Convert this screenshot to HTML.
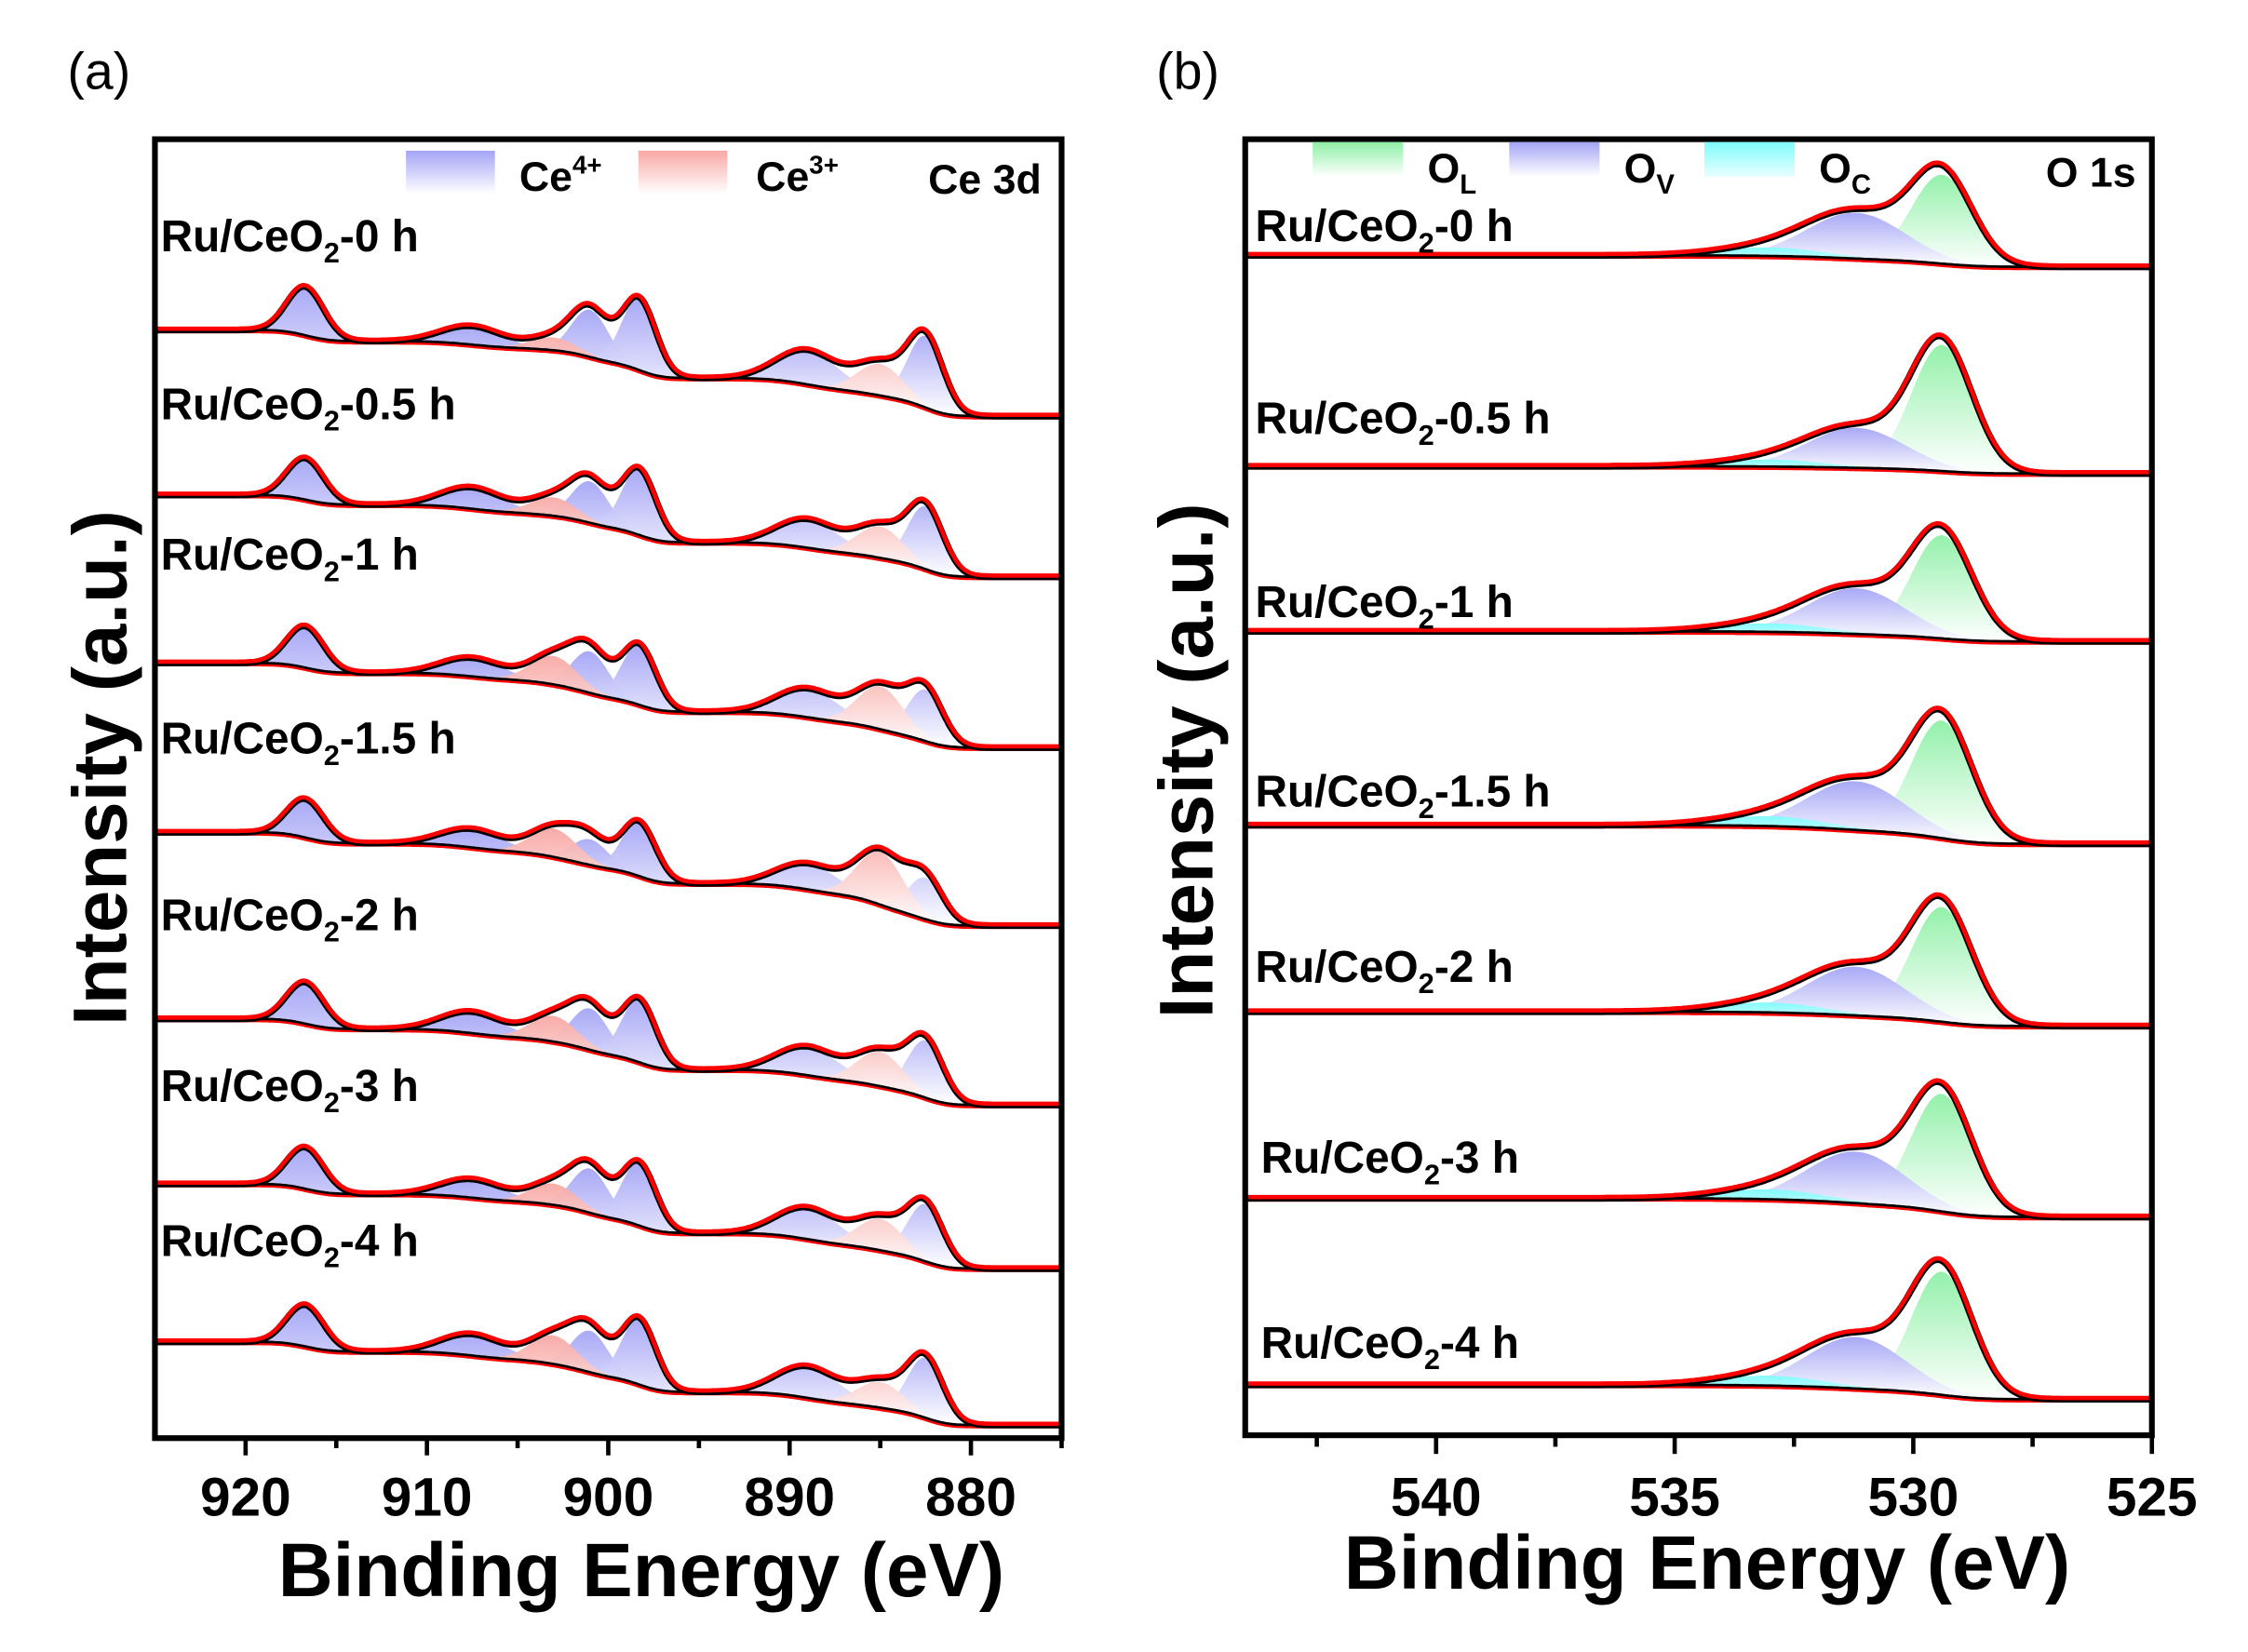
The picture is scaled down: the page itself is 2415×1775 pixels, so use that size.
<!DOCTYPE html>
<html><head><meta charset="utf-8"><style>
html,body{margin:0;padding:0;background:#fff}
svg{display:block}
text{font-family:"Liberation Sans",Arial,sans-serif}
</style></head><body>
<svg id="fig" width="2415" height="1775" viewBox="0 0 1567 1151" preserveAspectRatio="none" xmlns="http://www.w3.org/2000/svg">
<defs>
<linearGradient id="gB" x1="0" y1="0" x2="0" y2="1"><stop offset="0" stop-color="#a4a4f6"/><stop offset="1" stop-color="#ffffff"/></linearGradient>
<linearGradient id="gR" x1="0" y1="0" x2="0" y2="1"><stop offset="0" stop-color="#f8a8a4"/><stop offset="1" stop-color="#ffffff"/></linearGradient>
<linearGradient id="gG" x1="0" y1="0" x2="0" y2="1"><stop offset="0" stop-color="#8ef0a6"/><stop offset="1" stop-color="#ffffff"/></linearGradient>
<linearGradient id="gC" x1="0" y1="0" x2="0" y2="1"><stop offset="0" stop-color="#7ffcfc"/><stop offset="1" stop-color="#e8ffff"/></linearGradient>
</defs>
<g id="plotA"></g>
<g id="plotB"></g>
<text x="47" y="62" font-size="36">(a)</text>
<text x="806" y="62" font-size="36">(b)</text>
<text transform="translate(88,535) rotate(-90)" text-anchor="middle" font-size="53" font-weight="bold">Intensity (a.u.)</text>
<text transform="translate(845,530) rotate(-90)" text-anchor="middle" font-size="53" font-weight="bold">Intensity (a.u.)</text>
<text x="447" y="1112" text-anchor="middle" font-size="53" font-weight="bold">Binding Energy (eV)</text>
<text x="1190" y="1107" text-anchor="middle" font-size="53" font-weight="bold">Binding Energy (eV)</text>
<rect x="283" y="105" width="62" height="30" fill="url(#gB)"/>
<text x="362" y="133" font-size="29" font-weight="bold">Ce<tspan font-size="18" dy="-12">4+</tspan></text>
<rect x="445" y="105" width="62" height="30" fill="url(#gR)"/>
<text x="527" y="133" font-size="29" font-weight="bold">Ce<tspan font-size="18" dy="-12">3+</tspan></text>
<text x="647" y="135" font-size="29" font-weight="bold">Ce 3d</text>
<rect x="915" y="99" width="63" height="24" fill="url(#gG)"/>
<text x="995" y="127" font-size="29" font-weight="bold">O<tspan font-size="19" dy="8">L</tspan></text>
<rect x="1052" y="99" width="63" height="24" fill="url(#gB)"/>
<text x="1132" y="127" font-size="29" font-weight="bold">O<tspan font-size="19" dy="8">V</tspan></text>
<rect x="1188" y="99" width="63" height="24" fill="url(#gC)"/>
<text x="1268" y="127" font-size="29" font-weight="bold">O<tspan font-size="19" dy="8">C</tspan></text>
<text x="1426" y="130" font-size="29" font-weight="bold">O 1s</text>
</svg>
<script>
// ---- Ce 3d data ----
const ceCenters = [916.7, 907.5, 901.0, 898.3, 889.0, 882.5, 903.0, 885.0];
const ceFwhm    = [2.4, 4.0, 2.4, 2.2, 4.0, 2.3, 3.0, 3.0];
const ceType    = ['Ce4','Ce4','Ce4','Ce4','Ce4','Ce4','Ce3','Ce3'];
const ceSamples = ['0 h','0.5 h','1 h','1.5 h','2 h','3 h','4 h'];
const ceAmp = [
 [34,13,33,50,24,50,9,22],
 [29,15,29,46,20,44,13,22],
 [29,13,29,42,20,36,20,30],
 [27,13,18,38,18,29,20,37],
 [29,15,29,44,20,40,18,24],
 [29,13,31,44,22,40,15,22],
 [29,15,29,46,22,42,20,18]
];
const ceBaseLeft  = [230,345,462,580,710,825,935];
const ceBaseRight = [290,402,521,645,770,884,993];
const ceLabelY = [175,292,397,525,648,767,875];
const ceTicks = [920,910,900,890,880];
// ---- O 1s data ----
const oCenters = [529.4, 531.2, 533.0];
const oFwhm    = [1.5, 2.4, 2.6];
const oType    = ['OL','OV','OC'];
const oAmp = [
 [62,32,6],[88,28,5],[72,32,6],[82,34,7],[80,34,7],[82,36,7],[86,36,7]
];
const oBaseLeft  = [178,325,440,575,705,835,965];
const oBaseRight = [186,330,447,588,715,848,975];
const oLabelY = [168,302,430,562,684,817,946];
const oLabelX = [875,875,875,875,875,879,879];
const oTicks = [540,535,530,525];

const NS='http://www.w3.org/2000/svg';
function mk(tag,attrs,parent){const e=document.createElementNS(NS,tag);for(const k in attrs)e.setAttribute(k,attrs[k]);parent.appendChild(e);return e;}
const fills={Ce4:'url(#gB)',Ce3:'url(#gR)',OL:'url(#gG)',OV:'url(#gB)',OC:'url(#gC)'};

function drawPanel(g,opt){
  const {x0,x1,y0,y1,eMax,eMin,centers,fwhm,types,amps,bl,br,step}=opt;
  const xs=E=>x0+(eMax-E)*(x1-x0)/(eMax-eMin);
  const gs=(E,c,f)=>{const s=f/2.355;return Math.exp(-0.5*((E-c)/s)**2);};
  amps.forEach((amp,r)=>{
    const Es=[];for(let E=eMax;E>=eMin-1e-6;E-=step)Es.push(E);
    const tot=Es.map(E=>amp.reduce((a,A,i)=>a+A*gs(E,centers[i],fwhm[i]),0));
    const cum=[];let acc=0;for(let i=Es.length-1;i>=0;i--){acc+=tot[i];cum[i]=acc;}
    const bg=Es.map((E,i)=>br[r]-(br[r]-bl[r])*cum[i]/acc);
    const row=mk('g',{},g);
    
    
    amp.forEach((A,i)=>{
      let d='';Es.forEach((E,k)=>{d+=(k?'L':'M')+xs(E).toFixed(1)+','+(bg[k]-A*gs(E,centers[i],fwhm[i])).toFixed(1);});
      for(let k=Es.length-1;k>=0;k--)d+='L'+xs(Es[k]).toFixed(1)+','+bg[k].toFixed(1);
      const p=mk('path',{d:d+'Z',fill:fills[types[i]],stroke:'none',opacity:0.95},row);
      
      
    });
    let db='',de='',dr='';
    Es.forEach((E,k)=>{const X=xs(E).toFixed(1);db+=(k?'L':'M')+X+','+bg[k].toFixed(1);
      de+=(k?'L':'M')+X+','+(bg[k]-tot[k]).toFixed(1);
      dr+=(k?'L':'M')+X+','+(bg[k]-tot[k]-1).toFixed(1);});
    const b1=mk('path',{d:db,fill:'none',stroke:'#000',"stroke-width":2},row);
    
    
    const b2=mk('path',{d:db,fill:'none',stroke:'#f00',"stroke-width":1.5,transform:'translate(0,1.5)'},row);
    
    
    const raw=mk('path',{d:de,fill:'none',stroke:'#000',"stroke-width":4.5},row);
    
    
    const env=mk('path',{d:dr,fill:'none',stroke:'#f00',"stroke-width":3},row);
    
    
  });
  const fr=mk('rect',{x:x0,y:y0,width:x1-x0,height:y1-y0,fill:'none',stroke:'#000',"stroke-width":4},g);
  
  
  return xs;
}

const gA=document.getElementById('plotA');
const xa=drawPanel(gA,{x0:108,x1:740,y0:97,y1:1002,eMax:925,eMin:875,centers:ceCenters,fwhm:ceFwhm,types:ceType,amps:ceAmp,bl:ceBaseLeft,br:ceBaseRight,step:0.1});
ceTicks.forEach(t=>{
  const l=mk('line',{x1:xa(t),x2:xa(t),y1:1002,y2:1014,stroke:'#000',"stroke-width":3},gA);
  
  
  const m=mk('line',{x1:xa(t-5),x2:xa(t-5),y1:1002,y2:1009,stroke:'#000',"stroke-width":3},gA);
  
  
  const tx=mk('text',{x:xa(t),y:1056,"text-anchor":"middle","font-size":38,"font-weight":"bold"},gA);
  tx.textContent=t;
  
  
});
ceSamples.forEach((s,i)=>{
  const t=mk('text',{x:112,y:ceLabelY[i],"font-size":31,"font-weight":"bold"},gA);
  t.innerHTML='Ru/CeO<tspan font-size="20" dy="8">2</tspan><tspan dy="-8">-'+s+'</tspan>';
  
  
});

const gB=document.getElementById('plotB');
const xb=drawPanel(gB,{x0:868,x1:1500,y0:97,y1:1000,eMax:544,eMin:525,centers:oCenters,fwhm:oFwhm,types:oType,amps:oAmp,bl:oBaseLeft,br:oBaseRight,step:0.05});
oTicks.forEach(t=>{
  const l=mk('line',{x1:xb(t),x2:xb(t),y1:1000,y2:1013,stroke:'#000',"stroke-width":3},gB);
  
  
  const m=mk('line',{x1:xb(t+2.5),x2:xb(t+2.5),y1:1000,y2:1008,stroke:'#000',"stroke-width":3},gB);
  
  
  const tx=mk('text',{x:xb(t),y:1056,"text-anchor":"middle","font-size":38,"font-weight":"bold"},gB);
  tx.textContent=t;
  
  
});
ceSamples.forEach((s,i)=>{
  const t=mk('text',{x:oLabelX[i],y:oLabelY[i],"font-size":31,"font-weight":"bold"},gB);
  t.innerHTML='Ru/CeO<tspan font-size="20" dy="8">2</tspan><tspan dy="-8">-'+s+'</tspan>';
  
  
});
</script>
</body></html>
